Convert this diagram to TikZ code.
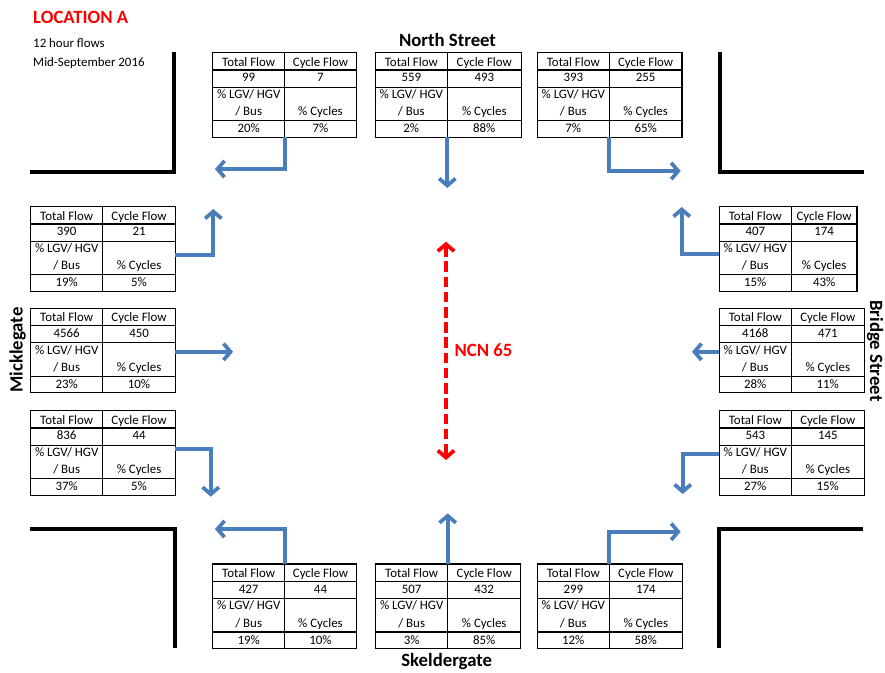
\documentclass[tikz,border=0pt]{standalone}
\usepackage{fontspec}
\setmainfont{Carlito}
\usetikzlibrary{arrows.meta,calc}
\definecolor{flowblue}{HTML}{4A7EBB}

\tikzset{
	flow/.style={draw=flowblue, line width=3.2pt, -{Straight Barb[length=6pt,width=14pt]}},
	ncn/.style={draw=red, line width=3.2pt, dash pattern=on 9pt off 4pt,
		{Straight Barb[length=6pt,width=14pt]}-{Straight Barb[length=6pt,width=14pt]}},
	road/.style={line width=3.2pt, line join=miter},
	grid/.style={line width=0.9pt},
	cell/.style={font=\fontsize{11}{13}\selectfont, inner sep=0pt, anchor=base},
	street/.style={font=\fontsize{16}{19}\selectfont\bfseries, inner sep=0pt, anchor=base},
}

% flow table: name, left, top, width of right column, total, cycle, % lgv, % cycles
\newcommand\flowtable[8]{
	\begin{scope}[shift={(#2,#3)}]
		\draw[grid] (0,0) rectangle (72+#4,84.6);
		\draw[grid] (0,17.3) -- (72+#4,17.3);
		\draw[grid] (0,34.6) -- (72+#4,34.6);
		\draw[grid] (0,68) -- (72+#4,68);
		\draw[grid] (72,0) -- (72,84.6);
		\node[cell] at (36,13.3) {Total Flow};
		\node[cell] at (72+#4/2,13.3) {Cycle Flow};
		\node[cell] at (36,29) {#5};
		\node[cell] at (72+#4/2,29) {#6};
		\node[cell] at (36,45.7) {\% LGV/ HGV};
		\node[cell] at (36,63) {/ Bus};
		\node[cell] at (72+#4/2,63) {\% Cycles};
		\node[cell] at (36,80) {#7};
		\node[cell] at (72+#4/2,80) {#8};
		\coordinate (#1-n) at (72,0);
		\coordinate (#1-s) at (72,84.6);
		\coordinate (#1-w) at (0,43.5);
		\coordinate (#1-e) at (72+#4,43.5);
	\end{scope}
}

\begin{document}
\begin{tikzpicture}[x=0.03cm, y=-0.03cm]
	\useasboundingbox (0,0) rectangle (885,673);

	\node[street, anchor=base west, text=red] (title) at (33,23.3) {LOCATION A};
	\node[cell, anchor=base west] (period) at (33,47.7) {12 hour flows};
	\node[cell, anchor=base west] (date) at (33,66) {Mid-September 2016};

	% kerb corners
	\draw[road] (30,171.7) -| (174,52);
	\draw[road] (864,171.7) -| (720,52);
	\draw[road] (30,529.3) -| (175,648.3);
	\draw[road] (863.3,529.3) -| (719.3,648.3);

	% street names
	\node[street] (north) at (447.5,46.7) {North Street};
	\node[street] (south) at (446.7,666.7) {Skeldergate};
	\node[street, rotate=90] (west) at (22.7,350) {Micklegate};
	\node[street, rotate=-90] (east) at (870,351) {Bridge Street};

	\flowtable{T1}{212.7}{52.7}{71.6}{99}{7}{20\%}{7\%}
	\flowtable{T2}{375.3}{52.7}{74}{559}{493}{2\%}{88\%}
	\flowtable{T3}{537.3}{52.7}{72.7}{393}{255}{7\%}{65\%}
	\flowtable{L1}{30.7}{206.7}{72.7}{390}{21}{19\%}{5\%}
	\flowtable{L2}{30.7}{308.3}{72.7}{4566}{450}{23\%}{10\%}
	\flowtable{L3}{30.7}{410.7}{72.7}{836}{44}{37\%}{5\%}
	\flowtable{R1}{719.3}{206.7}{65.7}{407}{174}{15\%}{43\%}
	\flowtable{R2}{719.3}{308.3}{73}{4168}{471}{28\%}{11\%}
	\flowtable{R3}{719.3}{410.7}{73}{543}{145}{27\%}{15\%}
	\flowtable{B1}{212.7}{564}{71.6}{427}{44}{19\%}{10\%}
	\flowtable{B2}{375.7}{564}{73}{507}{432}{3\%}{85\%}
	\flowtable{B3}{537.3}{564}{73}{299}{174}{12\%}{58\%}

	% turning movements
	\coordinate (T1-end) at (215,169);
	\coordinate (T2-end) at (447.3,188);
	\coordinate (T3-end) at (680.7,171);
	\coordinate (L1-end) at (213.3,209);
	\coordinate (L2-end) at (233,351.8);
	\coordinate (L3-end) at (210.7,496.7);
	\coordinate (R1-end) at (681.7,207);
	\coordinate (R2-end) at (692,351.8);
	\coordinate (R3-end) at (682.7,494);
	\coordinate (B1-end) at (215,529);
	\coordinate (B2-end) at (447.7,513.3);
	\coordinate (B3-end) at (680.7,531.7);

	\draw[flow] (T1-s) |- (T1-end);
	\draw[flow] (T2-s) -- (T2-end);
	\draw[flow] (T3-s) |- (T3-end);
	\draw[flow] ($(L1-e)+(0,4.8)$) -| (L1-end);
	\draw[flow] (L2-e) -- (L2-end);
	\draw[flow] ($(L3-e)+(0,-5.2)$) -| (L3-end);
	\draw[flow] ($(R1-w)+(0,4.1)$) -| (R1-end);
	\draw[flow] (R2-w) -- (R2-end);
	\draw[flow] (R3-w) -| (R3-end);
	\draw[flow] (B1-n) |- (B1-end);
	\draw[flow] (B2-n) -- (B2-end);
	\draw[flow] (B3-n) |- (B3-end);

	% cycle route
	\coordinate (ncn-top) at (446,241.7);
	\coordinate (ncn-bot) at (446,460);
	\draw[ncn] (ncn-top) -- (ncn-bot);
	\node[street, anchor=base west, text=red] (ncn) at (454.3,356) {NCN 65};
\end{tikzpicture}
\end{document}
